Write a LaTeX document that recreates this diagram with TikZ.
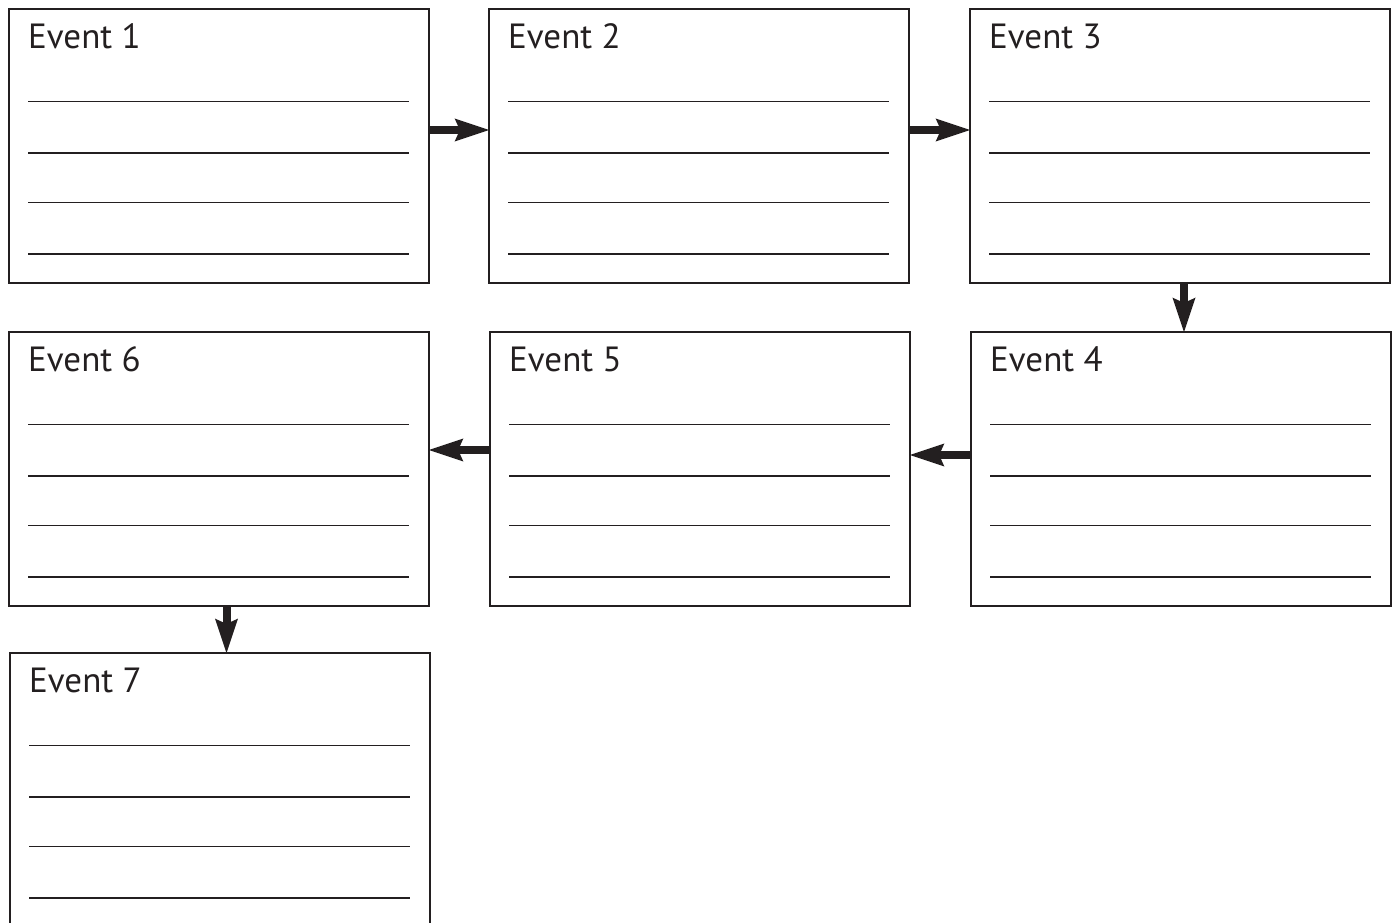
\documentclass[tikz,border=0pt]{standalone}
\usepackage{fontspec}
\setmainfont{PT Sans}
\usetikzlibrary{arrows.meta,calc}
\definecolor{ink}{HTML}{231F20}
\tikzset{
  evbox/.style={draw=ink, line width=2.5pt, minimum width=420pt, minimum height=274pt, inner sep=0pt, outer sep=0pt, anchor=north west},
  evtitle/.style={font=\fontsize{35}{40}\selectfont, text=ink, anchor=base west, inner sep=0pt},
  rule/.style={draw=ink, line width=1.5pt},
  flow/.style={draw=ink, line width=8pt, -{Stealth[length=34pt,width=21pt,inset=4pt]}, shorten >=-1pt}
}
\newcommand\evbox[4]{%
  \node[evbox] (#1) at (#2,#3) {};
  \node[evtitle] (#1t) at ($(#1.north west)+(19,39)$) {#4};
  \foreach \k in {92.7,144,193.7,245}{
    \draw[rule] ($(#1.north west)+(19,\k)$) -- ($(#1.north east)+(-20,\k)$);
  }}
\begin{document}
\begin{tikzpicture}[x=1pt,y=-1pt]
\useasboundingbox (0,0) rectangle (1393,922);
\clip (0,0) rectangle (1393,922);
\evbox{b1}{9}{9}{Event 1}
\evbox{b2}{489}{9}{Event 2}
\evbox{b3}{970}{9}{Event 3}
\evbox{b6}{9}{332}{Event 6}
\evbox{b5}{490}{332}{Event 5}
\evbox{b4}{971}{332}{Event 4}
\evbox{b7}{10}{653}{Event 7}
\draw[flow] ([yshift=16pt]b1.east) -- ([yshift=16pt]b2.west);
\draw[flow] ([yshift=16pt]b2.east) -- ([yshift=16pt]b3.west);
\draw[flow] ([xshift=4pt]b3.south) -- ([xshift=4pt]b3.south |- b4.north);
\draw[flow] ([yshift=14pt]b4.west) -- ([yshift=14pt]b5.east);
\draw[flow] ([yshift=19pt]b5.west) -- ([yshift=19pt]b6.east);
\draw[flow] ([xshift=7.5pt]b6.south) -- ([xshift=7.5pt]b6.south |- b7.north);
\end{tikzpicture}
\end{document}
